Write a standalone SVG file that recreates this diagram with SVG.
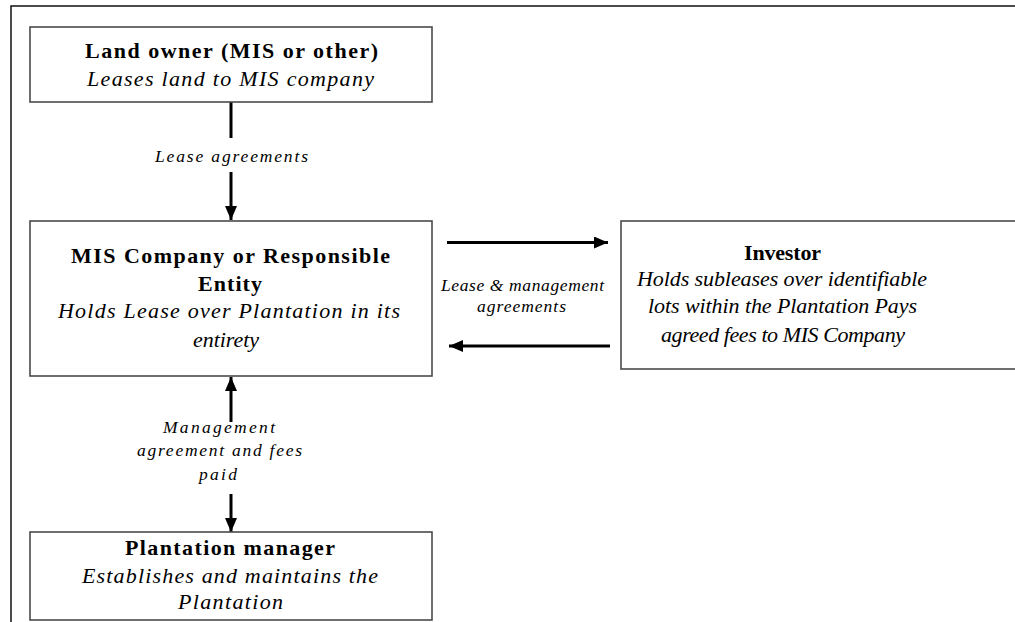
<svg xmlns="http://www.w3.org/2000/svg" width="1015" height="622" viewBox="0 0 1015 622">
<defs>
<marker id="ah" viewBox="0 0 14 12" refX="14" refY="6" markerWidth="14" markerHeight="12" markerUnits="userSpaceOnUse" orient="auto">
<path d="M0,0 L14,6 L0,12 Z" fill="#000"/>
</marker>
<style>
.box{fill:#fff;stroke:#4a4a4a;stroke-width:1.6}
.frame{fill:none;stroke:#111;stroke-width:1.5}
.t{font-family:"Liberation Serif","Times New Roman",serif;font-size:22px;text-anchor:middle;fill:#000}
.b{font-weight:bold}
.i{font-style:italic}
.lbl{font-family:"Liberation Serif","Times New Roman",serif;font-size:17.5px;font-style:italic;text-anchor:middle;fill:#000}
.ln{stroke:#000;stroke-width:3;fill:none}
.arr{stroke:#000;stroke-width:3;fill:none;marker-end:url(#ah)}
</style>
</defs>
<rect width="1015" height="622" fill="#fff"/>
<path class="frame" d="M11,622 L11,6 L1015,6"/>
<g id="connectors">
<line class="ln" x1="231" y1="102" x2="231" y2="138"/>
<line class="arr" x1="231" y1="172" x2="231" y2="220"/>
<line class="arr" x1="447" y1="242.5" x2="608" y2="242.5"/>
<line class="arr" x1="610" y1="346" x2="449" y2="346"/>
<line class="arr" x1="231" y1="422" x2="231" y2="377"/>
<line class="arr" x1="231" y1="494" x2="231" y2="532"/>
<text class="lbl" x="231.5" y="162" textLength="153" lengthAdjust="spacing">Lease agreements</text>
<text class="lbl" x="522.5" y="291" textLength="163" lengthAdjust="spacing">Lease &amp; management</text>
<text class="lbl" x="521.5" y="312" textLength="89" lengthAdjust="spacing">agreements</text>
<text class="lbl" x="219" y="433" textLength="112" lengthAdjust="spacing">Management</text>
<text class="lbl" x="219.5" y="456" textLength="165" lengthAdjust="spacing">agreement and fees</text>
<text class="lbl" x="218" y="480" textLength="38" lengthAdjust="spacing">paid</text>
</g>
<g id="land-owner">
<rect class="box" x="30" y="27" width="402" height="75"/>
<text class="t b" x="231.5" y="58" textLength="293" lengthAdjust="spacing">Land owner (MIS or other)</text>
<text class="t i" x="230.5" y="86" textLength="287" lengthAdjust="spacing">Leases land to MIS company</text>
</g>
<g id="mis-company">
<rect class="box" x="30" y="221" width="402" height="155"/>
<text class="t b" x="230.5" y="263" textLength="319" lengthAdjust="spacing">MIS Company or Responsible</text>
<text class="t b" x="230" y="291" textLength="64" lengthAdjust="spacing">Entity</text>
<text class="t i" x="229" y="318" textLength="342" lengthAdjust="spacing">Holds Lease over Plantation in its</text>
<text class="t i" x="226" y="347" textLength="66" lengthAdjust="spacing">entirety</text>
</g>
<g id="investor">
<rect class="box" x="621" y="221" width="400" height="148"/>
<text class="t b" x="782.5" y="260" textLength="77" lengthAdjust="spacing">Investor</text>
<text class="t i" x="782" y="286" textLength="290" lengthAdjust="spacing">Holds subleases over identifiable</text>
<text class="t i" x="782.5" y="313" textLength="269" lengthAdjust="spacing">lots within the Plantation Pays</text>
<text class="t i" x="783" y="342" textLength="244" lengthAdjust="spacing">agreed fees to MIS Company</text>
</g>
<g id="plantation-manager">
<rect class="box" x="30" y="532" width="402" height="88"/>
<text class="t b" x="230" y="555" textLength="210" lengthAdjust="spacing">Plantation manager</text>
<text class="t i" x="230" y="583" textLength="296" lengthAdjust="spacing">Establishes and maintains the</text>
<text class="t i" x="230.5" y="609" textLength="105" lengthAdjust="spacing">Plantation</text>
</g>
</svg>
